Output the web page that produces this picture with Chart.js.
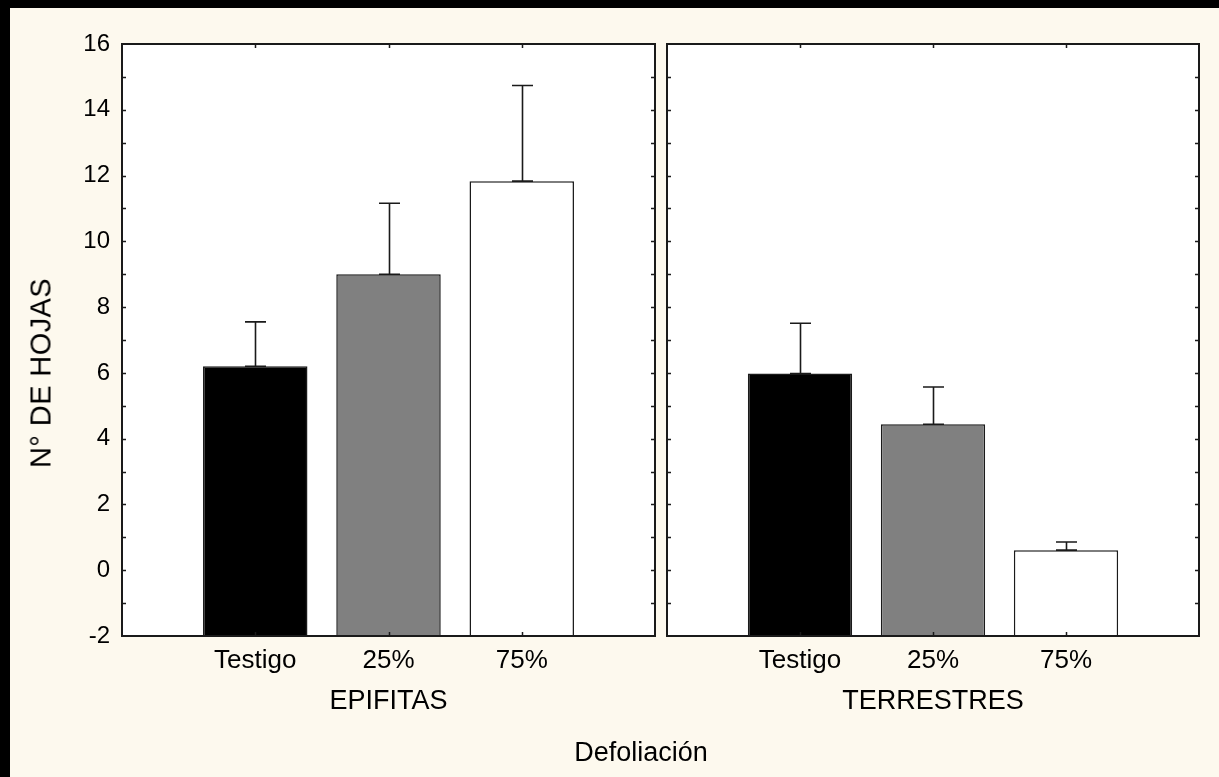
<!DOCTYPE html>
<html><head><meta charset="utf-8">
<script src="https://cdn.jsdelivr.net/npm/chart.js@4.4.1/dist/chart.umd.min.js"></script>
<style>
html,body{margin:0;padding:0;}
body{width:1219px;height:777px;background:#FDF9EE;position:relative;overflow:hidden;font-family:"Liberation Sans",Arial,sans-serif;}
#bt{position:absolute;left:0;top:0;width:1219px;height:8px;background:#000;}
#bl{position:absolute;left:0;top:0;width:10px;height:777px;background:#000;}
canvas{position:absolute;}
.t{position:absolute;white-space:nowrap;color:#000;line-height:1;}
</style></head><body>
<div id="bt"></div><div id="bl"></div>
<canvas id="c1" width="652" height="769" style="left:10px;top:8px;width:652px;height:769px"></canvas>
<canvas id="c2" width="557" height="769" style="left:662px;top:8px;width:557px;height:769px"></canvas>
<div class="t" id="ytitle" style="left:40.5px;top:373px;font-size:29px;letter-spacing:0.4px;transform:translate(-50%,-50%) rotate(-90deg);"></div>
<div class="t" id="xtitle" style="left:641px;top:752px;font-size:27px;transform:translate(-50%,-50%);"></div>
<script>
const categories = ['Testigo', '25%', '75%'];
const groupNames = ['EPIFITAS', 'TERRESTRES'];
const epifitasMean = [6.2, 9.0, 11.83];
const epifitasErr = [1.35, 2.16, 2.91];
const terrestresMean = [5.98, 4.44, 0.61];
const terrestresErr = [1.53, 1.13, 0.25];
const barColors = ['#000000', '#808080', '#FFFFFF'];
const yTicks = [-2, 0, 2, 4, 6, 8, 10, 12, 14, 16];
const yTitle = 'N° DE HOJAS';
const xTitle = 'Defoliación';

document.getElementById('ytitle').textContent = yTitle;
document.getElementById('xtitle').textContent = xTitle;

const LINE = '#1a1a1a';
const FONT = '"Liberation Sans", Arial, sans-serif';

const framePlugin = {
  id: 'frame',
  beforeDraw(chart) {
    const a = chart.chartArea, ctx = chart.ctx;
    ctx.save();
    ctx.fillStyle = '#FFFFFF';
    ctx.fillRect(a.left, a.top, a.right - a.left, a.bottom - a.top);
    ctx.restore();
  },
  afterDraw(chart) {
    const a = chart.chartArea, ctx = chart.ctx;
    const ys = chart.scales.y, xs = chart.scales.x;
    ctx.save();
    ctx.strokeStyle = LINE;
    ctx.lineWidth = 1.5;
    const ymin = yTicks[0], ymax = yTicks[yTicks.length - 1];
    ctx.beginPath();
    for (let v = ymin + 1; v < ymax; v += 1) {
      const py = Math.round(ys.getPixelForValue(v)) + 0.5;
      ctx.moveTo(a.left, py); ctx.lineTo(a.left + 4, py);
      ctx.moveTo(a.right - 4, py); ctx.lineTo(a.right, py);
    }
    for (let i = 1; i <= categories.length; i++) {
      const px = Math.round(xs.getPixelForValue(i)) + 0.5;
      ctx.moveTo(px, a.top); ctx.lineTo(px, a.top + 4);
      ctx.moveTo(px, a.bottom - 4); ctx.lineTo(px, a.bottom);
    }
    ctx.stroke();
    ctx.lineWidth = 2;
    ctx.strokeRect(a.left, a.top, a.right - a.left, a.bottom - a.top);
    ctx.restore();
  }
};

const errPlugin = {
  id: 'errbars',
  afterDatasetsDraw(chart, args, opts) {
    const ctx = chart.ctx, ys = chart.scales.y;
    const meta = chart.getDatasetMeta(0);
    const vals = chart.data.datasets[0].data;
    ctx.save();
    ctx.strokeStyle = LINE;
    ctx.lineWidth = 1.6;
    meta.data.forEach((bar, i) => {
      const v = vals[i], e = opts.err[i];
      if (v == null || e == null) return;
      const x = Math.round(bar.x) + 0.5;
      const y0 = ys.getPixelForValue(v), y1 = ys.getPixelForValue(v + e);
      ctx.beginPath();
      ctx.moveTo(x, y0); ctx.lineTo(x, y1);
      ctx.moveTo(x - 10.5, y1); ctx.lineTo(x + 10.5, y1);
      ctx.moveTo(x - 10.5, y0); ctx.lineTo(x + 10.5, y0);
      ctx.stroke();
    });
    ctx.restore();
  }
};

function makeChart(id, mean, err, group, showY, padLeft, padRight) {
  const labels = [''].concat(categories, ['']);
  const data = [null].concat(mean, [null]);
  const errs = [null].concat(err, [null]);
  const colors = ['rgba(0,0,0,0)'].concat(barColors, ['rgba(0,0,0,0)']);
  return new Chart(document.getElementById(id), {
    type: 'bar',
    data: {
      labels: labels,
      datasets: [{
        data: data,
        base: yTicks[0],
        backgroundColor: colors,
        borderColor: LINE,
        borderWidth: 1.5,
        borderSkipped: 'start',
        barPercentage: 0.784,
        categoryPercentage: 1
      }]
    },
    options: {
      responsive: false,
      animation: false,
      devicePixelRatio: 1,
      layout: { autoPadding: false, padding: { left: padLeft, right: padRight, top: 36, bottom: 41 } },
      plugins: {
        legend: { display: false },
        tooltip: { enabled: false },
        errbars: { err: errs }
      },
      scales: {
        x: {
          type: 'category',
          offset: false,
          grid: { display: false, drawTicks: false },
          border: { display: false },
          ticks: { autoSkip: false, maxRotation: 0, minRotation: 0, padding: 9, color: '#000', font: { family: FONT, size: 26 } },
          title: { display: true, text: group, color: '#000', font: { family: FONT, size: 27 }, padding: { top: 0, bottom: 18 } },
          afterFit: (s) => { s.height = 100; s.paddingLeft = 0; s.paddingRight = 0; }
        },
        y: {
          display: showY,
          min: yTicks[0],
          max: yTicks[yTicks.length - 1],
          afterBuildTicks: (s) => { s.ticks = yTicks.map(v => ({ value: v })); },
          grid: { display: false, drawTicks: false },
          border: { display: false },
          ticks: { padding: 12, color: '#000', font: { family: FONT, size: 24 } },
          afterFit: (s) => { if (showY) s.width = 112; }
        }
      }
    },
    plugins: [framePlugin, errPlugin]
  });
}

makeChart('c1', epifitasMean, epifitasErr, groupNames[0], true, 0, 7);
makeChart('c2', terrestresMean, terrestresErr, groupNames[1], false, 5, 20);
</script>
</body></html>
